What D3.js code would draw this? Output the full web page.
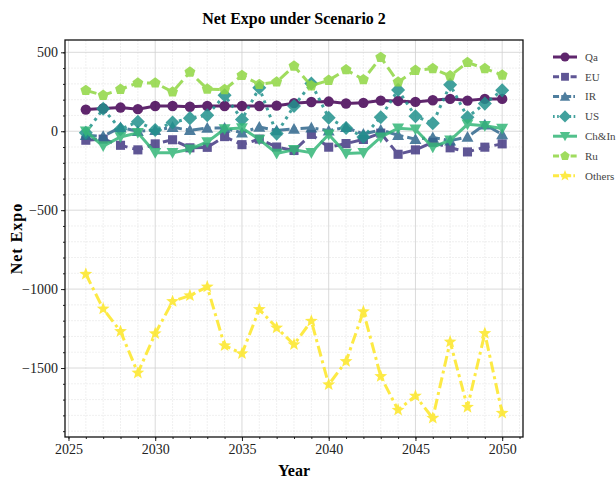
<!DOCTYPE html>
<html>
<head>
<meta charset="utf-8">
<script src="https://cdn.jsdelivr.net/npm/d3@7"></script>
<style>
  body { margin: 0; background: #fff; }
  svg { font-family: "Liberation Serif", "DejaVu Serif", serif; }
</style>
</head>
<body>
<div id="chart"></div>
<script>
const years = d3.range(2026, 2051);

const qa = [137, 144, 150, 140, 160, 160, 155, 160, 160, 160, 160, 162, 178, 185, 188, 176, 180, 194, 192, 186, 196, 205, 194, 205, 205];
const eu = [-57, -50, -89, -118, -80, -54, -105, -102, -34, -85, -50, -100, -122, -20, -101, -78, -52, -12, -146, -118, -70, -105, -131, -101, -80];
const ir = [-25, -32, 24, 0, 6, 25, 6, 20, 20, -10, 27, 5, 15, 22, 4, 25, -18, 8, -25, -50, -40, -60, -36, 42, -20];
const us = [-10, 142, 12, 60, 8, 55, 83, 101, 228, 74, 275, -15, 160, 302, 86, 20, -36, 89, 262, 95, 51, 294, 89, 175, 259];
const chin = [0, -94, -36, -10, -136, -136, -114, -68, 14, 20, -52, -141, -118, -136, -20, -141, -136, -38, 19, 12, -101, -57, 44, 35, 17];
const ru = [259, 228, 266, 306, 306, 249, 375, 267, 264, 354, 297, 312, 413, 288, 323, 390, 327, 468, 312, 386, 397, 351, 436, 397, 356];
const others = [-905, -1125, -1268, -1531, -1282, -1078, -1041, -986, -1358, -1409, -1128, -1245, -1351, -1202, -1605, -1458, -1142, -1553, -1766, -1677, -1817, -1334, -1748, -1280, -1785];

const seriesNames = ["Qa", "EU", "IR", "US", "Ch&In", "Ru", "Others"];
const seriesValues = [qa, eu, ir, us, chin, ru, others];
const yTicks = [-1500, -1000, -500, 0, 500];
const xTicks = [2025, 2030, 2035, 2040, 2045, 2050];

const colors = ["#440154", "#443983", "#31688e", "#21918c", "#35b779", "#90d743", "#fde725"];
const dashes = [null, "11,5", "11,4,3,4", "3,4.5", null, "11,5", "11,4,3,4"];
const markers = ["circle", "square", "triangle", "diamond", "triangleDown", "pentagon", "star"];

const W = 616, H = 479;
const margin = {left: 65, top: 40, right: 93, bottom: 42};
const width = W - margin.left - margin.right;
const height = H - margin.top - margin.bottom;

const svg = d3.select("#chart").append("svg")
  .attr("width", W)
  .attr("height", H);

const x = d3.scaleLinear().domain([2024.8, 2051.2]).range([0, width]);
const y = d3.scaleLinear().domain([-1937, 578]).range([height, 0]);

const g = svg.append("g").attr("transform", `translate(${margin.left},${margin.top})`);

// grid, minor first
g.append("g").selectAll("line")
  .data(d3.range(2025, 2052).filter(v => v % 5 !== 0))
  .enter().append("line")
    .attr("x1", d => x(d)).attr("x2", d => x(d))
    .attr("y1", 0).attr("y2", height)
    .attr("stroke", "#e6e6e6").attr("stroke-width", 0.6).attr("stroke-dasharray", "2,1");
g.append("g").selectAll("line")
  .data(d3.range(-1900, 600, 100).filter(v => v % 500 !== 0))
  .enter().append("line")
    .attr("y1", d => y(d)).attr("y2", d => y(d))
    .attr("x1", 0).attr("x2", width)
    .attr("stroke", "#e6e6e6").attr("stroke-width", 0.6).attr("stroke-dasharray", "2,1");
g.append("g").selectAll("line")
  .data(xTicks)
  .enter().append("line")
    .attr("x1", d => x(d)).attr("x2", d => x(d))
    .attr("y1", 0).attr("y2", height)
    .attr("stroke", "#d0d0d0").attr("stroke-width", 0.8);
g.append("g").selectAll("line")
  .data(yTicks)
  .enter().append("line")
    .attr("y1", d => y(d)).attr("y2", d => y(d))
    .attr("x1", 0).attr("x2", width)
    .attr("stroke", "#d0d0d0").attr("stroke-width", 0.8);

function markerPath(type, size) {
  const r = size;
  if (type === "circle") return d3.symbol(d3.symbolCircle, Math.PI * r * r)();
  if (type === "square") return d3.symbol(d3.symbolSquare, (r * 1.75) ** 2)();
  if (type === "diamond") {
    const s = r * 1.35;
    return `M0,${-s}L${s},0L0,${s}L${-s},0Z`;
  }
  if (type === "triangle" || type === "triangleDown") {
    const k = type === "triangle" ? 1 : -1;
    const s = r * 1.15;
    return `M0,${-s * k}L${s},${s * 0.8 * k}L${-s},${s * 0.8 * k}Z`;
  }
  if (type === "pentagon") {
    const pts = d3.range(5).map(i => {
      const a = -Math.PI / 2 + i * 2 * Math.PI / 5;
      return [Math.cos(a) * r * 1.1, Math.sin(a) * r * 1.1];
    });
    return "M" + pts.join("L") + "Z";
  }
  if (type === "star") {
    const pts = d3.range(10).map(i => {
      const a = -Math.PI / 2 + i * Math.PI / 5;
      const rr = i % 2 === 0 ? r * 1.3 : r * 0.55;
      return [Math.cos(a) * rr, Math.sin(a) * rr];
    });
    return "M" + pts.join("L") + "Z";
  }
}

const line = d3.line()
  .x((d, i) => x(years[i]))
  .y(d => y(d));

const series = g.selectAll(".series")
  .data(seriesValues)
  .enter().append("g")
    .attr("class", "series")
    .attr("opacity", 0.85);

series.append("path")
  .attr("d", d => line(d))
  .attr("fill", "none")
  .attr("stroke", (d, i) => colors[i])
  .attr("stroke-width", 3)
  .attr("stroke-dasharray", (d, i) => dashes[i]);

series.each(function(vals, si) {
  d3.select(this).selectAll("path.mk")
    .data(vals)
    .enter().append("path")
      .attr("class", "mk")
      .attr("transform", (d, i) => `translate(${x(years[i])},${y(d)})`)
      .attr("d", markerPath(markers[si], 5.2))
      .attr("fill", colors[si]);
});

// axes
const xAxis = d3.axisBottom(x).tickValues(xTicks).tickFormat(d3.format("d")).tickSize(4).tickPadding(3);
const xMinor = d3.axisBottom(x).tickValues(d3.range(2025, 2052)).tickFormat("").tickSize(2);
const yAxis = d3.axisLeft(y).tickValues(yTicks).tickFormat(d => d < 0 ? "\u2212" + Math.abs(d) : d).tickSize(4).tickPadding(3);
const yMinor = d3.axisLeft(y).tickValues(d3.range(-1900, 600, 100)).tickFormat("").tickSize(2);

function styleAxis(sel) {
  sel.attr("font-family", "Liberation Serif, serif").attr("font-size", 14);
  sel.select(".domain").remove();
  sel.selectAll("line").attr("stroke", "#222");
  sel.selectAll("text").attr("fill", "#222");
}

g.append("g").attr("transform", `translate(0,${height})`).call(xMinor).call(styleAxis);
g.append("g").attr("transform", `translate(0,${height})`).call(xAxis).call(styleAxis);
g.append("g").call(yMinor).call(styleAxis);
g.append("g").call(yAxis).call(styleAxis);

g.append("rect")
  .attr("width", width).attr("height", height)
  .attr("fill", "none").attr("stroke", "#111").attr("stroke-width", 1.3);

// titles
svg.append("text")
  .attr("x", margin.left + width / 2).attr("y", 24)
  .attr("text-anchor", "middle")
  .style("font-size", "16px").style("font-weight", "bold")
  .text("Net Expo under Scenario 2");

svg.append("text")
  .attr("x", margin.left + width / 2).attr("y", 476)
  .attr("text-anchor", "middle")
  .style("font-size", "16px").style("font-weight", "bold")
  .text("Year");

svg.append("text")
  .attr("transform", `translate(22,${margin.top + height / 2}) rotate(-90)`)
  .attr("text-anchor", "middle")
  .style("font-size", "16px").style("font-weight", "bold").style("letter-spacing", "1px")
  .text("Net Expo");

// legend
const legend = svg.append("g").attr("transform", "translate(553,57)");
const item = legend.selectAll(".item")
  .data(seriesNames)
  .enter().append("g")
    .attr("class", "item")
    .attr("transform", (d, i) => `translate(0,${i * 19.8})`)
    .attr("opacity", 0.85);

item.append("line")
  .attr("x1", 0).attr("x2", 24)
  .attr("stroke", (d, i) => colors[i])
  .attr("stroke-width", 3)
  .attr("stroke-dasharray", (d, i) => dashes[i] ? dashes[i].split(",").map(v => v * 0.55).join(",") : null);

item.append("path")
  .attr("transform", "translate(12,0)")
  .attr("d", (d, i) => markerPath(markers[i], 4.5))
  .attr("fill", (d, i) => colors[i]);

item.append("text")
  .attr("x", 32).attr("dy", "0.35em")
  .style("font-size", "11px")
  .attr("fill", "#222")
  .text(d => d);
</script>
</body>
</html>
